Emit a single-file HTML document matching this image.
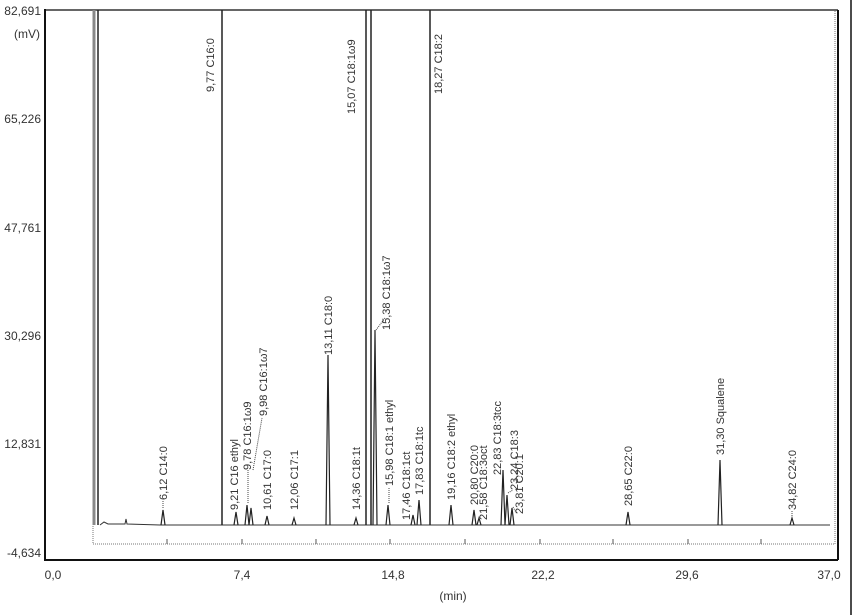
<!DOCTYPE html>
<html><head><meta charset="utf-8"><style>
html,body{margin:0;padding:0;background:#fff}
svg{display:block;font-family:"Liberation Sans",sans-serif}
</style></head><body>
<svg width="856" height="615" viewBox="0 0 856 615" xmlns="http://www.w3.org/2000/svg">
<rect width="856" height="615" fill="#fff"/>
<line x1="45" y1="10" x2="838" y2="10" stroke="#666" stroke-width="2"/>
<line x1="45" y1="9" x2="45" y2="561" stroke="#111" stroke-width="2"/>
<line x1="45" y1="560" x2="838" y2="560" stroke="#111" stroke-width="2"/>
<line x1="838" y1="10" x2="838" y2="560" stroke="#111" stroke-width="2"/>
<line x1="851" y1="0" x2="851" y2="615" stroke="#111" stroke-width="1.5"/>
<polyline points="93,10 93,544 835,544 835,10" fill="none" stroke="#777" stroke-width="1" stroke-dasharray="1,1"/>
<g stroke="#555" stroke-width="1">
<line x1="167" y1="539" x2="167" y2="544"/><line x1="242" y1="539" x2="242" y2="544"/>
<line x1="316" y1="539" x2="316" y2="544"/><line x1="390" y1="539" x2="390" y2="544"/>
<line x1="465" y1="539" x2="465" y2="544"/><line x1="540" y1="539" x2="540" y2="544"/>
<line x1="613" y1="539" x2="613" y2="544"/><line x1="688" y1="539" x2="688" y2="544"/>
<line x1="761" y1="539" x2="761" y2="544"/>
</g>
<g font-size="12" fill="#333" text-anchor="end">
<text x="41" y="15">82,691</text>
<text x="40" y="38">(mV)</text>
<text x="41" y="123">65,226</text>
<text x="41" y="232">47,761</text>
<text x="41" y="340">30,296</text>
<text x="41" y="448">12,831</text>
<text x="41" y="557">-4,634</text>
</g>
<g font-size="12" fill="#333" text-anchor="middle">
<text x="53" y="579">0,0</text>
<text x="242" y="579">7,4</text>
<text x="393" y="579">14,8</text>
<text x="543" y="579">22,2</text>
<text x="687" y="579">29,6</text>
<text x="829" y="579">37,0</text>
<text x="453" y="600">(min)</text>
</g>
<polyline points="100,525 104,522 108,524 125,524 126,519 127,524 160,525 400,525 830,525" fill="none" stroke="#333" stroke-width="1"/>
<g stroke="#222" stroke-width="1.5" fill="none">
<line x1="94" y1="10" x2="94" y2="525" stroke="#888" stroke-width="3"/>
<line x1="98" y1="10" x2="98" y2="525" stroke="#222"/>
<line x1="222" y1="10" x2="222" y2="525"/>
<line x1="366" y1="10" x2="366" y2="525"/>
<line x1="371" y1="10" x2="371" y2="525"/>
<line x1="430" y1="10" x2="430" y2="525"/>
</g>
<g stroke="#222" stroke-width="1.2" fill="none">
<path d="M161,525 L163,510 L165,525"/>
<path d="M234,525 L236,512 L238,525"/>
<path d="M245,525 L247,505 L249,525"/>
<path d="M249,525 L251,508 L253,525"/>
<path d="M265,525 L267,516 L269,525"/>
<path d="M292,525 L294,518 L296,525"/>
<path d="M326,525 L328,355 L330,525"/>
<path d="M354,525 L356,518 L358,525"/>
<path d="M373,525 L375,330 L377,525"/>
<path d="M386,525 L388,505 L390,525"/>
<path d="M411,525 L413,515 L415,525"/>
<path d="M417,525 L419,500 L421,525"/>
<path d="M449,525 L451,505 L453,525"/>
<path d="M472,525 L474,510 L476,525"/>
<path d="M477,525 L479,518 L481,525"/>
<path d="M501,525 L503,470 L505,525"/>
<path d="M505,525 L507,495 L509,525"/>
<path d="M510,525 L512,508 L514,525"/>
<path d="M626,525 L628,512 L630,525"/>
<path d="M718,525 L720,460 L722,525"/>
<path d="M790,525 L792,518 L794,525"/>
</g>
<g stroke="#444" stroke-width="1" stroke-dasharray="1,1">
<line x1="163" y1="508" x2="163" y2="500"/>
<line x1="248" y1="503" x2="248" y2="470"/>
<line x1="253" y1="470" x2="262" y2="418"/>
<line x1="376" y1="330" x2="385" y2="318"/>
<line x1="389" y1="503" x2="389" y2="487"/>
<line x1="508" y1="493" x2="513" y2="490"/>
<line x1="513" y1="507" x2="517" y2="514"/>
<line x1="792" y1="516" x2="792" y2="510"/>
</g>
<g font-size="11" fill="#333">
<text transform="translate(214,92) rotate(-90)">9,77 C16:0</text>
<text transform="translate(355,114) rotate(-90)">15,07 C18:1ω9</text>
<text transform="translate(442,94) rotate(-90)">18,27 C18:2</text>
<text transform="translate(167,500) rotate(-90)">6,12 C14:0</text>
<text transform="translate(238,510) rotate(-90)">9,21 C16 ethyl</text>
<text transform="translate(251,470) rotate(-90)">9,78 C16:1ω9</text>
<text transform="translate(267,416) rotate(-90)">9,98 C16:1ω7</text>
<text transform="translate(271,510) rotate(-90)">10,61 C17:0</text>
<text transform="translate(298,510) rotate(-90)">12,06 C17:1</text>
<text transform="translate(332,355) rotate(-90)">13,11 C18:0</text>
<text transform="translate(360,510) rotate(-90)">14,36 C18:1t</text>
<text transform="translate(390,330) rotate(-90)">15,38 C18:1ω7</text>
<text transform="translate(393,486) rotate(-90)">15,98 C18:1 ethyl</text>
<text transform="translate(410,520) rotate(-90)">17,46 C18:1ct</text>
<text transform="translate(423,495) rotate(-90)">17,83 C18:1tc</text>
<text transform="translate(455,500) rotate(-90)">19,16 C18:2 ethyl</text>
<text transform="translate(478,505) rotate(-90)">20,80 C20:0</text>
<text transform="translate(487,520) rotate(-90)">21,58 C18:3oct</text>
<text transform="translate(501,475) rotate(-90)">22,83 C18:3tcc</text>
<text transform="translate(518,490) rotate(-90)">23,24 C18:3</text>
<text transform="translate(523,514) rotate(-90)">23,81 C20:1</text>
<text transform="translate(632,506) rotate(-90)">28,65 C22:0</text>
<text transform="translate(724,455) rotate(-90)">31,30 Squalene</text>
<text transform="translate(796,510) rotate(-90)">34,82 C24:0</text>
</g>
</svg>
</body></html>
